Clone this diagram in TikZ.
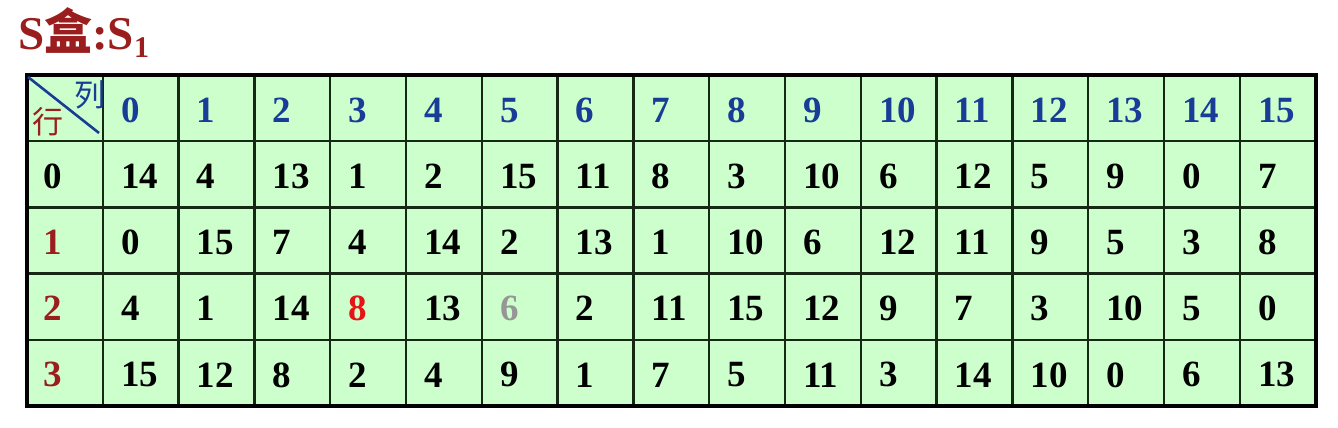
\documentclass[tikz,border=0pt]{standalone}
\usepackage{fontspec}
\setmainfont{Liberation Serif}
\newfontfamily\cjk{Noto Sans CJK SC}
\definecolor{cellgreen}{RGB}{204,255,204}
\definecolor{gridline}{RGB}{20,40,20}
\definecolor{titlered}{RGB}{155,30,30}
\definecolor{headblue}{RGB}{25,60,150}
\definecolor{hotred}{RGB}{230,20,20}
\definecolor{fadegray}{RGB}{150,150,150}
\tikzset{
  cellnum/.style = {anchor = west, inner sep = 0pt, font = \fontsize{37}{40}\selectfont\bfseries},
  cornertext/.style = {inner sep = 0pt, font = \fontsize{31}{33}\selectfont\cjk}
}
\begin{document}
\begin{tikzpicture}[x = 1pt, y = -1pt]
\pgfmathsetmacro\cw{75.8};
\pgfmathsetmacro\rh{66.2};
\pgfmathsetmacro\xo{27};
\pgfmathsetmacro\yo{75};
\useasboundingbox (0,0) rectangle (1338,428);
% title
\node[anchor = base west, inner sep = 0pt, text = titlered, font = \fontsize{47}{50}\selectfont\bfseries] (title) at (18,50)
  {S{\cjk\fontsize{48}{50}\selectfont 盒}:S\raisebox{-8pt}{\fontsize{30}{32}\selectfont 1}};
% table body and grid
\fill[cellgreen] (\xo,\yo) rectangle (\xo+17*\cw,\yo+5*\rh);
\foreach \c in {1,...,16} \draw[color = gridline, line width = 2.4pt] (\xo+\c*\cw,\yo) -- (\xo+\c*\cw,\yo+5*\rh);
\foreach \r in {1,...,4} \draw[color = gridline, line width = 2.4pt] (\xo,\yo+\r*\rh) -- (\xo+17*\cw,\yo+\r*\rh);
\draw[line width = 3.8pt] (\xo,\yo) rectangle (\xo+17*\cw,\yo+5*\rh);
% corner cell
\draw[color = headblue, line width = 2.6pt] (\xo+1,\yo+2) -- (\xo+72,\yo+58);
\node[cornertext, text = headblue] (lie) at (\xo+63,\yo+20) {列};
\node[cornertext, text = titlered] (hang) at (\xo+21,\yo+47) {行};
% column numbers
\foreach \c in {0,...,15} \node[cellnum, text = headblue] (col-\c) at (\xo+\cw*\c+\cw+18,\yo+\rh/2+2) {\c};
% row numbers
\foreach \r/\rc in {0/black,1/titlered,2/titlered,3/titlered} \node[cellnum, text = \rc] (row-\r) at (\xo+16,\yo+\rh*\r+\rh*1.5+2) {\r};
% entries
\foreach \r/\vals in {
  0/{14,4,13,1,2,15,11,8,3,10,6,12,5,9,0,7},
  1/{0,15,7,4,14,2,13,1,10,6,12,11,9,5,3,8},
  2/{4,1,14,\textcolor{hotred}{8},13,\textcolor{fadegray}{6},2,11,15,12,9,7,3,10,5,0},
  3/{15,12,8,2,4,9,1,7,5,11,3,14,10,0,6,13}}
  \foreach \v [count = \c from 0] in \vals
    \node[cellnum] (s-\r-\c) at (\xo+\cw*\c+\cw+18,\yo+\rh*\r+\rh*1.5+2) {\v};
\end{tikzpicture}
\end{document}
